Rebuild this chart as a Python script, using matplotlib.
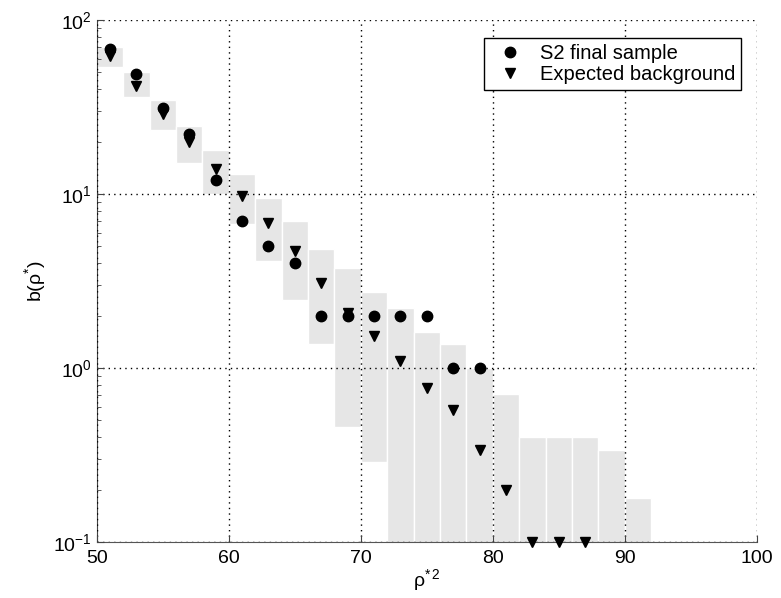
import numpy as np
import matplotlib
matplotlib.use('Agg')
import matplotlib.pyplot as plt

plt.rcParams['font.family'] = ['Liberation Sans', 'DejaVu Sans']
plt.rcParams['mathtext.default'] = 'regular'

# Bins of rho*^2 (width 2)
bin_centers = [51, 53, 55, 57, 59, 61, 63, 65, 67, 69, 71, 73, 75, 77, 79, 81, 83, 85, 87, 89, 91]

# Expected background band (low / high edge of each bin)
band_hi = [70, 50, 34.5, 24.5, 18, 13, 9.5, 7.0, 4.8, 3.75, 2.75, 2.2, 1.62, 1.37, 1.0, 0.71, 0.4, 0.4, 0.4, 0.34, 0.18]
band_lo = [54, 36, 23.3, 15, 10, 6.7, 4.1, 2.45, 1.37, 0.46, 0.29, 0.001, 0.001, 0.001, 0.001, 0.001, 0.001, 0.001, 0.001, 0.001, 0.001]

# S2 final sample (counts)
data_x = [51, 53, 55, 57, 59, 61, 63, 65, 67, 69, 71, 73, 75, 77, 79]
data_y = [68, 49, 31, 22, 12, 7, 5, 4, 2, 2, 2, 2, 2, 1, 1]

# Expected background
bkg_x = [51, 53, 55, 57, 59, 61, 63, 65, 67, 69, 71, 73, 75, 77, 79, 81, 83, 85, 87]
bkg_y = [62, 42, 29, 20, 14, 9.8, 6.8, 4.7, 3.1, 2.07, 1.53, 1.1, 0.77, 0.57, 0.34, 0.2, 0.1, 0.1, 0.1]

fig = plt.figure(figsize=(7.81, 5.98), dpi=100)
ax = fig.add_axes([0.124, 0.0936, 0.845, 0.873])

lo = np.array(band_lo)
hi = np.array(band_hi)
ax.bar(bin_centers, hi - lo, bottom=lo, width=2, color='#e6e6e6',
       edgecolor='white', linewidth=1.0, zorder=1)

ax.plot(data_x, data_y, 'o', color='black', markersize=7.5, label='S2 final sample', zorder=3)
ax.plot(bkg_x, bkg_y, 'v', color='black', markersize=7.5, label='Expected background',
        zorder=3, clip_on=False)

ax.set_yscale('log')
ax.set_xlim(50, 100)
ax.set_ylim(0.1, 100)
ax.set_xticks([50, 60, 70, 80, 90, 100])

ax.grid(True, which='major', linestyle=(0, (1, 3)), color='black', linewidth=1.0, zorder=2)
ax.set_axisbelow(False)
ax.spines['top'].set_visible(False)
ax.spines['right'].set_visible(False)
ax.spines['bottom'].set_color('#555555')
ax.spines['left'].set_color('#444444')
ax.tick_params(which='both', direction='in', labelsize=14, top=False, right=False,
               color='#444444')
ax.tick_params(which='major', length=5)
ax.tick_params(which='minor', length=3)
ax.tick_params(axis='x', pad=6)

ax.set_xlabel(r'$\rho^{*\,2}$', fontsize=14, labelpad=0)
ax.set_ylabel(r'b($\rho^{*}$)', fontsize=14)

leg = ax.legend(loc='upper right', fontsize=14.5, frameon=True, fancybox=False,
                edgecolor='black', framealpha=1, handletextpad=0.5,
                borderpad=0.3, labelspacing=0.1, bbox_to_anchor=(0.992, 0.985))
leg.get_frame().set_linewidth(1.0)

fig.savefig('out.png', dpi=100)
